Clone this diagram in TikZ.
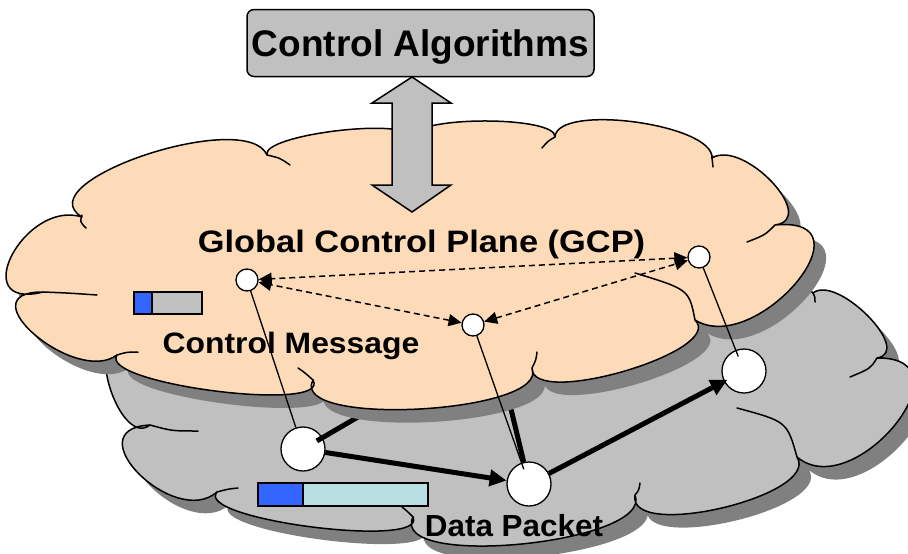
\documentclass[tikz,border=0pt]{standalone}
\usepackage{fontspec}
\usepackage{graphicx}
\setmainfont{Liberation Sans}
\usetikzlibrary{calc,arrows.meta}

\definecolor{peach}{RGB}{253,219,184}
\definecolor{cloudgray}{RGB}{192,192,192}
\definecolor{shadowgray}{RGB}{128,128,128}
\definecolor{hdrblue}{RGB}{51,102,255}
\definecolor{payload}{RGB}{184,224,226}

% bulges of a cloud outline: cubics passing through #1 halfway,
% with control points spread more or less along the chord
\tikzset{
  flatlobe/.style={to path={
    .. controls ($0.3333*(\tikztostart)+1.3333*#1-0.6667*(\tikztotarget)$)
    and ($0.3333*(\tikztotarget)+1.3333*#1-0.6667*(\tikztostart)$) .. (\tikztotarget)}},
  lobe/.style={to path={
    .. controls ($0.4333*(\tikztostart)+1.3333*#1-0.7667*(\tikztotarget)$)
    and ($0.4333*(\tikztotarget)+1.3333*#1-0.7667*(\tikztostart)$) .. (\tikztotarget)}},
  roundlobe/.style={to path={
    .. controls ($0.5833*(\tikztostart)+1.3333*#1-0.9167*(\tikztotarget)$)
    and ($0.5833*(\tikztotarget)+1.3333*#1-0.9167*(\tikztostart)$) .. (\tikztotarget)}},
  outline/.style={line width=1.5pt, line join=round},
  crease/.style={line width=1.5pt, line cap=round},
  smallnode/.style={circle, draw, fill=white, line width=1.3pt, inner sep=0pt, minimum size=22pt},
  bignode/.style={circle, draw, fill=white, line width=1.3pt, inner sep=0pt, minimum size=44pt},
  thinline/.style={line width=1.3pt},
  thickline/.style={line width=5pt},
  thickarrow/.style={line width=5pt, -{Triangle[length=17pt,width=16pt]}},
  dasharrow/.style={line width=1.5pt, dash pattern=on 6pt off 4pt,
    {Triangle[length=13pt,width=12pt]}-{Triangle[length=13pt,width=12pt]}},
  lbl/.style={font=\bfseries, inner sep=0pt, anchor=base},
  algbox/.style={draw, fill=cloudgray, line width=1.5pt, rounded corners=7pt,
    minimum width=347pt, minimum height=67pt, text depth=0pt,
    font=\fontsize{37}{40}\selectfont\bfseries},
  pkt/.style={draw, line width=1.3pt},
}

% upper cloud: the global control plane
\newcommand\peachoutline{(43,292) to[roundlobe={(12,255)}] (82,217)
  to[lobe={(145,155)}] (267,155) to[flatlobe={(335,131)}] (412,137)
  to[flatlobe={(485,121)}] (555,137) to[flatlobe={(635,122)}] (712,158)
  to[lobe={(772,182)}] (775,225) to[roundlobe={(796,283)}] (695,320)
  to[lobe={(625,371)}] (532,368) to[lobe={(420,409)}] (313,380)
  to[lobe={(215,391)}] (117,355) to[roundlobe={(35,335)}] (43,292) -- cycle}

% lower cloud: the data plane (its top lies under the upper cloud)
\newcommand\grayoutline{(125,345) -- (300,325) -- (780,262) -- (813,293)
  to[lobe={(868,316)}] (877,358) to[roundlobe={(895,425)}] (797,457)
  to[lobe={(722,508)}] (635,495) to[lobe={(522,544)}] (413,517)
  to[lobe={(312,527)}] (217,492) to[roundlobe={(139,474)}] (150,425)
  to[roundlobe={(110,388)}] (125,345) -- cycle}

\begin{document}
\begin{tikzpicture}[x=1pt,y=-1pt]
\useasboundingbox (0,0) rectangle (908,554);

% ---- data plane cloud
\begin{scope}[transform canvas={shift={(12,13)}}]
  \fill[shadowgray] \grayoutline;
\end{scope}
\filldraw[fill=cloudgray, outline] \grayoutline;
\draw[crease] (877,358) .. controls (870.5,368.5) .. (850,377);
\draw[crease] (813,293) .. controls (815,297) .. (815,302);
\draw[crease] (797,457) .. controls (787,421.5) .. (737,408);
\draw[crease] (635,495) .. controls (639,490) .. (640,483);
\draw[crease] (413,517) .. controls (407,511) .. (402,507);
\draw[crease] (217,492) .. controls (228,489) .. (238,488);
\draw[crease] (150,425) .. controls (172,431) .. (198,431);

% ---- forwarding nodes and packet paths
\node[bignode] (N4) at (303,449) {};
\node[bignode] (N5) at (529,484) {};
\node[bignode] (N6) at (744,371) {};
\coordinate (H1) at (430,375);
\coordinate (H2) at (498,355);
\draw[thickline, shorten <=16pt] (N4.center) -- (H1);
\draw[thickline] (H2) -- (N5);
\draw[thickarrow] (N4) -- (N5);
\draw[thickarrow, shorten >=-4pt] (N5) -- (N6);

% ---- control plane cloud
\begin{scope}[transform canvas={shift={(12,13)}}]
  \fill[shadowgray] \peachoutline;
\end{scope}
\filldraw[fill=peach, outline] \peachoutline;
\draw[crease] (82,215) .. controls (80,222) .. (86,228);
\draw[crease] (267,155) .. controls (280,158) .. (290,165);
\draw[crease] (555,137) .. controls (548,141) .. (542,148);
\draw[crease] (712,158) .. controls (713,162) .. (713,167);
\draw[crease] (775,225) .. controls (765,235) .. (747,242);
\draw[crease] (695,320) .. controls (689,289.5) .. (635,273);
\draw[crease] (532,368) .. controls (536,360) .. (537,352);
\draw[crease] (313,380) .. controls (304,372) .. (298,368);
\draw[crease] (117,355) .. controls (127,352) .. (138,352);
\draw[crease] (43,292) .. controls (68,293) .. (97,295);

% ---- control algorithms and the exchange with the control plane
\node[algbox] (CA) at (420.5,43) {Control Algorithms};
\filldraw[fill=cloudgray, line width=1.5pt, line join=miter]
  (412,77) -- (451,103) -- (432,103) -- (432,185) -- (451,185) -- (412,212)
  -- (372,185) -- (392,185) -- (392,103) -- (372,103) -- cycle;

% ---- controllers
\node[smallnode] (N1) at (247,280) {};
\node[smallnode] (N2) at (473,325) {};
\node[smallnode] (N3) at (699,257) {};
\draw[thinline] (N1) -- (N4);
\draw[thinline, shorten >=-7pt] (N2) -- (N5);
\draw[thinline, shorten >=-7pt] (N3) -- (N6);
\draw[dasharrow] (N3) -- (N1);
\draw[dasharrow] (N2) -- (N1);
\draw[dasharrow] (N2) -- (N3);

% ---- messages
\draw[pkt, fill=cloudgray] (152,292) rectangle (202,314);
\draw[pkt, fill=hdrblue] (134,292) rectangle (152,314);
\draw[pkt, fill=payload] (303,483) rectangle (428,506);
\draw[pkt, fill=hdrblue] (258,483) rectangle (303,506);

% ---- labels
\node[lbl] (gcp) at (421.5,252) {\fontsize{31}{34}\selectfont\scalebox{1.11}[1]{Global Control Plane (GCP)}};
\node[lbl] (cmsg) at (291,353) {\fontsize{29.5}{32}\selectfont\scalebox{1.08}[1]{Control Message}};
\node[lbl] (dpkt) at (514,536) {\fontsize{30.5}{33}\selectfont\scalebox{1.03}[1]{Data Packet}};
\end{tikzpicture}
\end{document}
